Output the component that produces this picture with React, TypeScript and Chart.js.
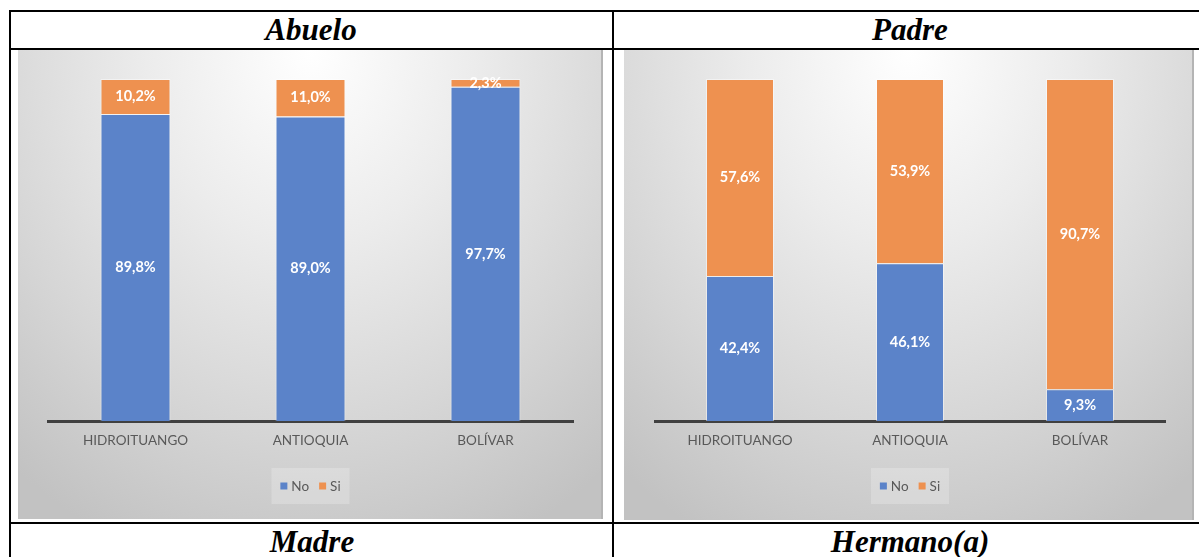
import React, { useEffect, useRef } from "react";
import { Chart, registerables } from "chart.js";

Chart.register(...registerables);

const categories = ["HIDROITUANGO", "ANTIOQUIA", "BOLÍVAR"];
const seriesNames = ["No", "Si"];
const abueloNo = [89.8, 89.0, 97.7];
const abueloSi = [10.2, 11.0, 2.3];
const padreNo = [42.4, 46.1, 9.3];
const padreSi = [57.6, 53.9, 90.7];
const topTitles = ["Abuelo", "Padre"];
const bottomTitles = ["Madre", "Hermano(a)"];

const BLUE = "#5B83C9";
const ORANGE = "#EE9150";
const FONT = "Lato, 'Open Sans', sans-serif";

const dataLabelPlugin = {
  id: "dataLabels",
  afterDatasetsDraw(chart: any) {
    const ctx = chart.ctx;
    ctx.save();
    ctx.font = `bold 14.5px ${FONT}`;
    ctx.fillStyle = "#ffffff";
    ctx.textAlign = "center";
    ctx.textBaseline = "middle";
    chart.data.datasets.forEach((ds: any, di: number) => {
      const meta = chart.getDatasetMeta(di);
      meta.data.forEach((el: any, i: number) => {
        const p = el.getProps(["x", "y", "base"], true);
        const v = ds.data[i] as number;
        const txt = v.toFixed(1).replace(".", ",") + "%";
        ctx.fillText(txt, p.x, (p.y + p.base) / 2);
      });
    });
    ctx.restore();
  },
};

const legendPlugin = {
  id: "customLegend",
  afterDraw(chart: any) {
    const ctx = chart.ctx;
    const ca = chart.chartArea;
    const cx = (ca.left + ca.right) / 2;
    const cy = ca.bottom + 65;
    ctx.save();
    ctx.fillStyle = "rgba(255,255,255,0.22)";
    ctx.fillRect(cx - 39, cy - 18, 78, 36);
    ctx.font = `13.5px ${FONT}`;
    ctx.textBaseline = "middle";
    const box = 7;
    const gapBox = 4;
    const gapItem = 10;
    const items = chart.data.datasets.map((d: any) => ({
      label: d.label,
      color: d.backgroundColor,
      w: ctx.measureText(d.label).width,
    }));
    let total = 0;
    items.forEach((it: any, i: number) => {
      total += box + gapBox + it.w + (i < items.length - 1 ? gapItem : 0);
    });
    let x = cx - total / 2;
    items.forEach((it: any) => {
      ctx.fillStyle = it.color;
      ctx.fillRect(x, cy - box / 2, box, box);
      x += box + gapBox;
      ctx.fillStyle = "#595959";
      ctx.textAlign = "left";
      ctx.fillText(it.label, x, cy + 1);
      x += it.w + gapItem;
    });
    ctx.restore();
  },
};

function BarChart({ no, si, width, height, padL, padR }: any) {
  const ref = useRef<HTMLCanvasElement>(null);
  useEffect(() => {
    const chart = new Chart(ref.current!, {
      type: "bar",
      data: {
        labels: categories,
        datasets: [
          {
            label: seriesNames[0],
            data: no,
            backgroundColor: BLUE,
            borderColor: "rgba(255,255,255,0.45)",
            borderWidth: 1,
            barPercentage: 0.4,
            categoryPercentage: 1.0,
          },
          {
            label: seriesNames[1],
            data: si,
            backgroundColor: ORANGE,
            borderColor: "rgba(255,255,255,0.45)",
            borderWidth: 1,
            barPercentage: 0.4,
            categoryPercentage: 1.0,
          },
        ],
      },
      options: {
        responsive: false,
        animation: false,
        devicePixelRatio: 1,
        layout: { padding: { left: padL, right: padR, top: 29, bottom: height - 371 - 60 } },
        plugins: { legend: { display: false }, tooltip: { enabled: false } },
        scales: {
          x: {
            stacked: true,
            offset: true,
            grid: { display: false, drawTicks: false },
            border: { display: true, color: "#404040", width: 3 },
            ticks: { color: "#595959", font: { family: FONT, size: 13.5 }, padding: 12 },
            afterFit: (s: any) => {
              s.height = 60;
            },
          },
          y: { stacked: true, display: false, min: 0, max: 100 },
        },
      },
      plugins: [dataLabelPlugin, legendPlugin],
    });
    return () => chart.destroy();
  }, []);
  return <canvas ref={ref} width={width} height={height} style={{ display: "block" }} />;
}

const bg =
  "radial-gradient(ellipse 80% 115% at 50% 0%, #ffffff 0%, #ececec 35%, #d6d6d6 70%, #c2c2c2 100%)";

const line = (l: number, t: number, w: number, h: number) => (
  <div style={{ position: "absolute", left: l, top: t, width: w, height: h, background: "#000" }} />
);

const titleStyle = (cx: number, cy: number): React.CSSProperties => ({
  position: "absolute",
  left: cx - 200,
  width: 400,
  top: cy - 20,
  height: 40,
  lineHeight: "40px",
  textAlign: "center",
  fontFamily: "'Liberation Serif', 'Times New Roman', serif",
  fontWeight: "bold",
  fontStyle: "italic",
  fontSize: 31,
  color: "#000",
});

export default function App() {
  return (
    <div
      style={{
        position: "absolute",
        left: 0,
        top: 0,
        width: 1199,
        height: 557,
        overflow: "hidden",
        background: "#fff",
      }}
    >
      {line(9, 10, 1190, 2)}
      {line(9, 48, 1190, 2)}
      {line(9, 522, 1190, 2)}
      {line(9, 10, 2, 547)}
      {line(612, 10, 2, 547)}
      <div style={titleStyle(311, 30)}>{topTitles[0]}</div>
      <div style={titleStyle(910, 30)}>{topTitles[1]}</div>
      <div style={titleStyle(312, 542)}>{bottomTitles[0]}</div>
      <div style={titleStyle(910, 542)}>{bottomTitles[1]}</div>
      <div
        style={{
          position: "absolute",
          left: 18,
          top: 50,
          width: 585,
          height: 469,
          background: bg,
          boxShadow: "inset -2px 0 0 #b4b4b4",
        }}
      >
        <BarChart no={abueloNo} si={abueloSi} width={585} height={469} padL={30} padR={30} />
      </div>
      <div
        style={{
          position: "absolute",
          left: 624,
          top: 50,
          width: 570,
          height: 470,
          background: bg,
          boxShadow: "inset -2px 0 0 #b4b4b4",
        }}
      >
        <BarChart no={padreNo} si={padreSi} width={570} height={470} padL={31} padR={29} />
      </div>
    </div>
  );
}
